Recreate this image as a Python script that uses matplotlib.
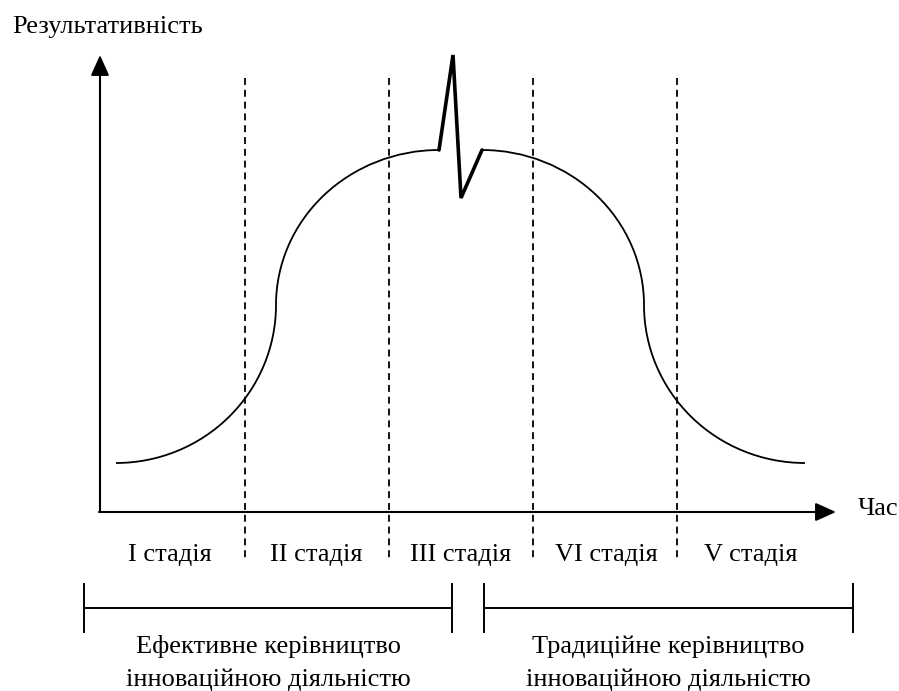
import matplotlib.pyplot as plt
from matplotlib.patches import Arc

plt.rcParams['font.family'] = ['Liberation Serif', 'DejaVu Serif']
plt.rcParams['lines.scale_dashes'] = False

# canvas is 899x691 px, coordinates below are in px with y going down
axis_x = 100
axis_y = 512
y_tip = 55
x_tip = 836

# stage boundaries (dashed) and stage captions
stage_bounds = [245, 389, 533, 677]
stage_top = 78
stage_bottom = 558
stage_names = ['I стадія', 'II стадія', 'III стадія', 'VI стадія', 'V стадія']
stage_label_x = [170, 316, 461, 606, 751]
stage_label_y = 561

# the bell curve = four quarter ellipses
arc_cx = [116, 439, 482, 805]
arc_cy = [305, 305, 305, 305]
arc_rx = [160, 163, 162, 161]
arc_ry = [158, 155, 155, 158]
arc_t1 = [0, 180, 270, 90]
arc_t2 = [90, 270, 360, 180]

# break at the top
spike_x = [439, 453, 461, 482]
spike_y = [150, 55, 198, 150]

# brackets below the stages
bracket_left = [84, 484]
bracket_right = [452, 853]
bracket_y = 608
bracket_half = 24
bracket_lines = [['Ефективне керівництво', 'інноваційною діяльністю'],
                 ['Традиційне керівництво', 'інноваційною діяльністю']]
bracket_text_y = [653, 686]

fs = 19

fig = plt.figure(figsize=(8.99, 6.91), dpi=100)
ax = fig.add_axes([0, 0, 1, 1])
ax.set_xlim(0, 899)
ax.set_ylim(691, 0)
ax.axis('off')

# axes with arrows
arrow = dict(arrowstyle='-|>,head_length=12.5,head_width=5.6', mutation_scale=1,
             lw=1.5, color='black', shrinkA=0, shrinkB=0)
ax.annotate('', xy=(axis_x, y_tip), xytext=(axis_x, axis_y), arrowprops=arrow)
ax.annotate('', xy=(x_tip, axis_y), xytext=(axis_x - 1, axis_y), arrowprops=arrow)
ax.text(12, 33, 'Результативність', fontsize=fs, ha='left', va='baseline')
ax.text(858, 515, 'Час', fontsize=fs, ha='left', va='baseline')

# stages
for x in stage_bounds:
    ax.plot([x, x], [stage_top, stage_bottom], color='black', lw=1.3,
            linestyle=(0, (5, 3.5)))
for name, x in zip(stage_names, stage_label_x):
    ax.text(x, stage_label_y, name, fontsize=fs, ha='center', va='baseline')

# curve
for cx, cy, rx, ry, t1, t2 in zip(arc_cx, arc_cy, arc_rx, arc_ry, arc_t1, arc_t2):
    ax.add_patch(Arc((cx, cy), 2 * rx, 2 * ry, theta1=t1, theta2=t2,
                     color='black', lw=1.3))
ax.plot(spike_x, spike_y, color='black', lw=2.6, solid_joinstyle='miter',
        solid_capstyle='round')

# brackets
for left, right, lines in zip(bracket_left, bracket_right, bracket_lines):
    ax.plot([left, right], [bracket_y, bracket_y], color='black', lw=1.4)
    for x in (left, right):
        ax.plot([x, x], [bracket_y - bracket_half, bracket_y + bracket_half],
                color='black', lw=1.4)
    mid = (left + right) / 2
    for line, y in zip(lines, bracket_text_y):
        ax.text(mid, y, line, fontsize=fs, ha='center', va='baseline')

fig.savefig('out.png', dpi=100)
